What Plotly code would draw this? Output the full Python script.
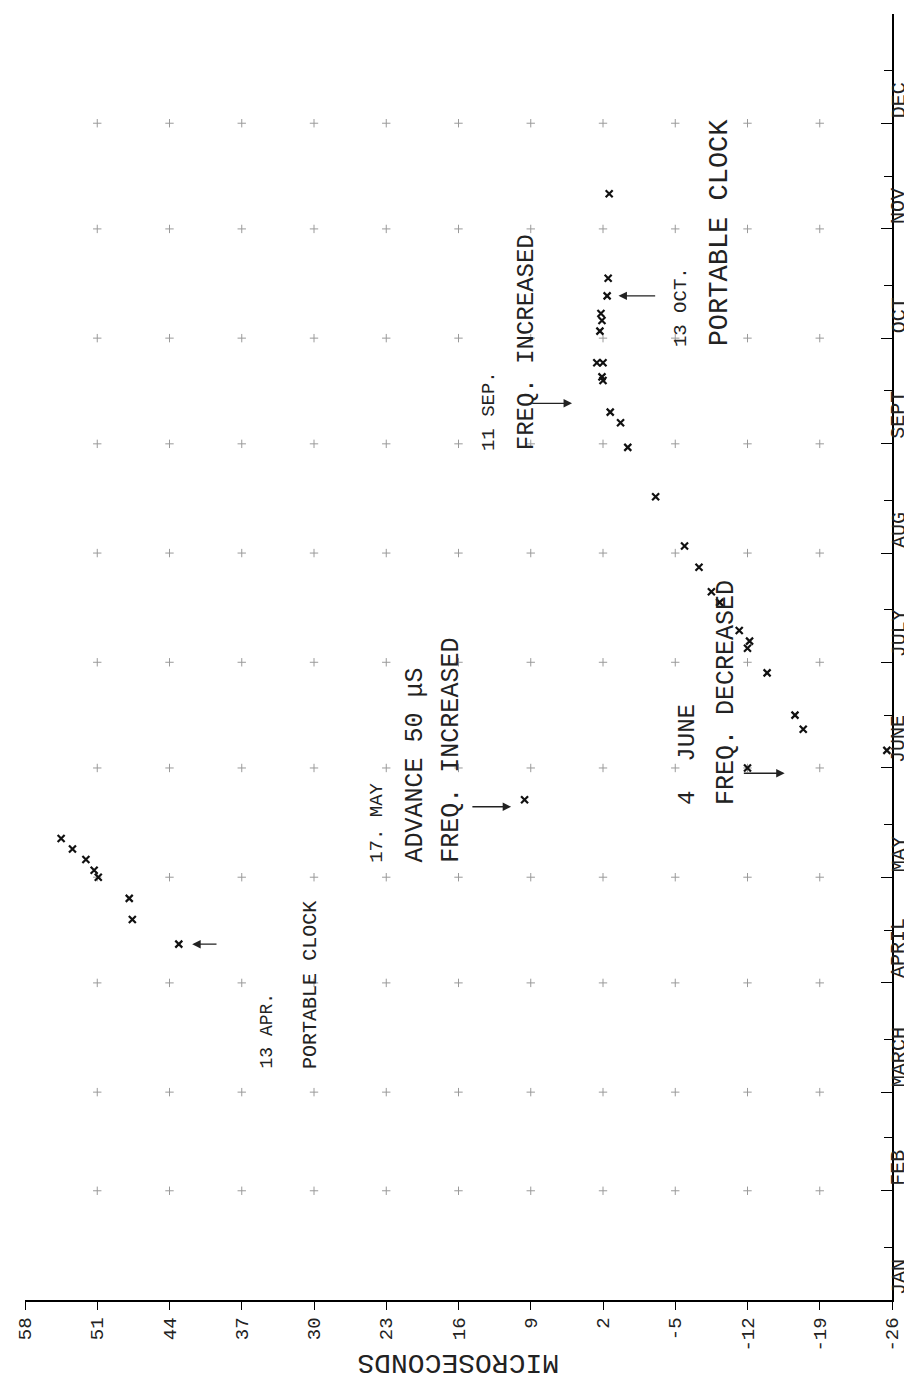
import plotly.graph_objects as go

# ---------------- data ----------------
months = ["JAN", "FEB", "MARCH", "APRIL", "MAY", "JUNE", "JULY", "AUG", "SEPT", "OCT", "NOV", "DEC"]
month_start_day = [1, 32, 60, 91, 121, 152, 182, 213, 244, 274, 305, 335]
value_ticks = [58, 51, 44, 37, 30, 23, 16, 9, 2, -5, -12, -19, -26]

# observed clock difference (microseconds) vs day of year
obs_day = [102, 109, 115, 121, 123, 126, 129, 132,
           143,
           152, 157, 163, 167, 179, 186, 188, 191, 199, 202, 209, 215, 229,
           243, 250, 253, 262, 263, 267, 267, 276, 279, 281, 286, 291, 315]
obs_us = [43.1, 47.6, 47.9, 50.9, 51.3, 52.1, 53.4, 54.5,
          9.6,
          -12.0, -25.5, -17.4, -16.6, -13.9, -12.0, -12.2, -11.2, -9.3, -8.5, -7.3, -5.9, -3.1,
          -0.4, 0.3, 1.3, 2.0, 2.1, 2.0, 2.6, 2.3, 2.1, 2.2, 1.6, 1.5, 1.4]

# event notes: text lines
note_lines = [
    ["13 APR.", "PORTABLE CLOCK"],
    ["17. MAY", "ADVANCE 50 \u03bcS", "FREQ. INCREASED"],
    ["4  JUNE", "FREQ. DECREASED"],
    ["11 SEP.", "FREQ. INCREASED"],
    ["13 OCT.", "PORTABLE CLOCK"],
]

# ---------------- layout config ----------------
FONT = "Liberation Mono"
INK = "#222222"
y_range = [1, 366]
x_range = [58, -26]

fig = go.Figure()

# faint grid crosses at every month / value tick intersection
gx, gy = [], []
for d in month_start_day[1:]:
    for v in value_ticks[1:-1]:
        gx.append(v)
        gy.append(d)
fig.add_trace(go.Scatter(
    x=gx, y=gy, mode="markers", hoverinfo="skip",
    marker=dict(symbol="cross-thin", size=6, line=dict(width=1, color="#9a9a9a")),
    showlegend=False))

# observations
fig.add_trace(go.Scatter(
    x=obs_us, y=obs_day, mode="markers",
    marker=dict(symbol="x-thin", size=7, line=dict(width=2.2, color="#111111")),
    showlegend=False))

annotations = []

# month labels on the right axis (start just above each month tick)
for m, d in zip(months, month_start_day):
    annotations.append(dict(
        text=m, x=1, xref="paper", xshift=7, xanchor="center",
        y=d, yref="y", yanchor="bottom", yshift=3,
        textangle=-90, showarrow=False,
        font=dict(family=FONT, size=20, color=INK)))

# note text placements: value position of each line, day where text starts, font sizes
note_pos = [
    ([34.6, 30.3], 66, [18, 20]),
    ([23.9, 20.2, 16.7], 124.5, [19, 25, 25]),
    ([-6.2, -9.9], 141, [24, 25]),
    ([13.1, 9.4], 241.5, [19, 24]),
    ([-5.5, -9.3], 271, [19, 27]),
]
for lines, (xs, d0, sizes) in zip(note_lines, note_pos):
    for t, xv, fs in zip(lines, xs, sizes):
        annotations.append(dict(
            text=t, x=xv, xref="x", xanchor="center",
            y=d0, yref="y", yanchor="bottom",
            textangle=-90, showarrow=False,
            font=dict(family=FONT, size=fs, color=INK)))

# arrows (head value, tail value, day)
arrows = [(41.8, 39.3, 102), (10.9, 14.8, 141), (-15.6, -11.5, 150.5),
          (5.0, 9.0, 255.5), (0.5, -3.2, 286)]
for hx, tx, d in arrows:
    annotations.append(dict(
        x=hx, y=d, xref="x", yref="y", ax=tx, ay=d, axref="x", ayref="y",
        text="", showarrow=True, arrowhead=2, arrowsize=1.3, arrowwidth=1.3,
        arrowcolor=INK, standoff=0))

# axis title, upside-down under the axis
annotations.append(dict(
    text="MICROSECONDS", x=0.5, xref="paper", xanchor="center",
    y=-0.049, yref="paper", yanchor="middle", textangle=180, showarrow=False,
    font=dict(family=FONT, size=28, color=INK)))

mid_month = [d + 15 for d in month_start_day]

fig.update_layout(
    width=912, height=1382,
    margin=dict(l=17, r=28, t=6, b=90),
    paper_bgcolor="white", plot_bgcolor="white",
    showlegend=False,
    xaxis=dict(range=x_range, tickvals=value_ticks, ticktext=[str(v) for v in value_ticks],
               tickangle=-90, ticks="outside", ticklen=8, tickwidth=1.2, tickcolor="black",
               showline=True, linecolor="black", linewidth=1.5, showgrid=False, zeroline=False,
               tickfont=dict(family=FONT, size=19, color=INK)),
    xaxis2=dict(overlaying="x", side="bottom", anchor="y", range=x_range, tickvals=value_ticks,
                ticks="inside", ticklen=8, tickwidth=1.2, tickcolor="black",
                showticklabels=False, showline=False, showgrid=False, zeroline=False),
    xaxis3=dict(overlaying="x", side="top", anchor="y", range=x_range, tickvals=value_ticks,
                ticks="inside", ticklen=6, tickwidth=1.2, tickcolor="black",
                showticklabels=False, showline=True, linecolor="black", linewidth=1.5,
                showgrid=False, zeroline=False),
    yaxis=dict(range=y_range, side="right", tickvals=month_start_day, ticks="inside",
               ticklen=11, tickwidth=1.2, tickcolor="black", showticklabels=False,
               showline=True, linecolor="black", linewidth=1.5, showgrid=False, zeroline=False,
               minor=dict(tickvals=mid_month, ticks="inside", ticklen=8, tickwidth=1.2,
                          tickcolor="black", showgrid=False)),
    yaxis2=dict(overlaying="y", side="right", anchor="x", range=y_range, tickvals=month_start_day,
                ticks="outside", ticklen=5, tickwidth=1.2, tickcolor="black",
                showticklabels=False, showline=False, showgrid=False, zeroline=False),
    yaxis3=dict(overlaying="y", side="left", anchor="x", range=y_range, tickvals=month_start_day,
                ticks="inside", ticklen=11, tickwidth=1.2, tickcolor="black",
                showticklabels=False, showline=True, linecolor="black", linewidth=1.5,
                showgrid=False, zeroline=False,
                minor=dict(tickvals=mid_month, ticks="inside", ticklen=7, tickwidth=1.2,
                           tickcolor="black", showgrid=False)),
    annotations=annotations,
)

fig.write_html("out.html")
